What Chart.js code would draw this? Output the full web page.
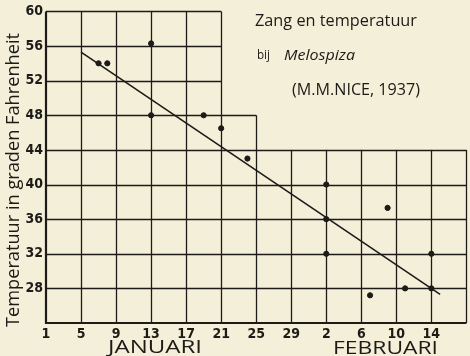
<!DOCTYPE html>
<html><head><meta charset="utf-8">
<script src="https://cdn.jsdelivr.net/npm/chart.js@4.4.1/dist/chart.umd.min.js"></script>
<style>html,body{margin:0;padding:0;background:#f3efd9;}</style>
</head><body><canvas id="c" width="470" height="356"></canvas>
<script>
const xTickValues=[1,5,9,13,17,21,25,29,33,37,41,45];
const xTickLabels=['1','5','9','13','17','21','25','29','2','6','10','14'];
const yTickValues=[28,32,36,40,44,48,52,56,60];
const songDays=[7,8,13,13,19,21,24,33,33,33,38,40,42,45,45];
const songTemps=[54,54,56.3,48,48,46.5,43,40,36,32,27.2,37.3,28,28,32];
const trendDays=[5,46];
const trendTemps=[55.3,27.3];
const hLineTemps=[60,56,52,48,44,40,36,32,28];
const hLineEndDays=[21,21,21,25,49,49,49,49,49];
const vLineDays=[5,9,13,17,21,25,29,33,37,41,45,49];
const vLineTopTemps=[60,60,60,60,60,48,44,44,44,44,44,44];
const monthLabels=['JANUARI','FEBRUARI'];
const titleLines=['Zang en temperatuur','bij','Melospiza','(M.M.NICE, 1937)'];
const yAxisTitle='Temperatuur in graden Fahrenheit';

const INK='#1c1b18';
const PAPER='#f3efd9';

function fitText(ctx,text,x,y,width,size,family,style){
  ctx.save();
  ctx.font=`${style||'normal'} normal ${size}px ${family}`;
  const w=ctx.measureText(text).width;
  ctx.translate(x,y);
  ctx.scale(width/w,1);
  ctx.fillText(text,0,0);
  ctx.restore();
}

const paperPlugin={
  id:'paper',
  beforeDraw(chart){
    const ctx=chart.ctx;
    ctx.save();ctx.fillStyle=PAPER;ctx.fillRect(0,0,chart.width,chart.height);ctx.restore();
  },
  beforeDatasetsDraw(chart){
    const ctx=chart.ctx, xs=chart.scales.x, ys=chart.scales.y;
    ctx.save();
    ctx.strokeStyle=INK;
    ctx.lineWidth=1.3;
    hLineTemps.forEach((t,i)=>{
      const py=Math.round(ys.getPixelForValue(t))+0.5;
      ctx.beginPath();ctx.moveTo(xs.getPixelForValue(xs.min),py);ctx.lineTo(xs.getPixelForValue(hLineEndDays[i]),py);ctx.stroke();
    });
    vLineDays.forEach((d,i)=>{
      const px=Math.round(xs.getPixelForValue(d))+0.5;
      ctx.beginPath();ctx.moveTo(px,ys.getPixelForValue(ys.min));ctx.lineTo(px,ys.getPixelForValue(vLineTopTemps[i]));ctx.stroke();
    });
    ctx.lineWidth=2.2;
    ctx.beginPath();
    ctx.moveTo(xs.getPixelForValue(xs.min),ys.getPixelForValue(ys.max));
    ctx.lineTo(xs.getPixelForValue(xs.min),ys.getPixelForValue(ys.min));
    ctx.lineTo(xs.getPixelForValue(xs.max),ys.getPixelForValue(ys.min));
    ctx.stroke();
    ctx.restore();
  },
  afterDraw(chart){
    const ctx=chart.ctx;
    ctx.save();
    ctx.fillStyle=INK;
    ctx.textAlign='left';ctx.textBaseline='alphabetic';
    const fam='"Open Sans", "DejaVu Sans", sans-serif';
    fitText(ctx,titleLines[0],255,26,162,17,fam);
    fitText(ctx,titleLines[1],257,59,13,12,fam);
    fitText(ctx,titleLines[2],284,60,71,15,fam,'italic');
    fitText(ctx,titleLines[3],292,95,128,17,fam);
    fitText(ctx,monthLabels[0],108,353,94,18,fam);
    fitText(ctx,monthLabels[1],333,354,105,19,fam);
    ctx.translate(19,327);ctx.rotate(-Math.PI/2);
    fitText(ctx,yAxisTitle,0,0,294,19,fam);
    ctx.restore();
  }
};

const tickFont={family:'"Liberation Sans Narrow", "DejaVu Sans Condensed", sans-serif',size:14,weight:'bold'};

new Chart(document.getElementById('c'),{
  type:'scatter',
  data:{datasets:[
    {label:'Zang',data:songDays.map((d,i)=>({x:d,y:songTemps[i]})),backgroundColor:INK,borderColor:INK,pointRadius:2.6,pointHoverRadius:2.6},
    {label:'Trend',type:'line',data:trendDays.map((d,i)=>({x:d,y:trendTemps[i]})),borderColor:INK,borderWidth:1.6,pointRadius:0,fill:false,showLine:true}
  ]},
  plugins:[paperPlugin],
  options:{
    responsive:false,animation:false,devicePixelRatio:1,
    layout:{padding:{top:7,right:3,left:0,bottom:0}},
    plugins:{legend:{display:false},tooltip:{enabled:false}},
    scales:{
      x:{type:'linear',min:1,max:49,
        grid:{display:false,drawTicks:false},border:{display:false},
        afterBuildTicks(s){s.ticks=xTickValues.map(v=>({value:v}));},
        afterFit(s){s.height=33;},
        ticks:{autoSkip:false,maxRotation:0,padding:3,color:INK,font:tickFont,
          callback(v){const i=xTickValues.indexOf(v);return i>=0?xTickLabels[i]:'';}}
      },
      y:{type:'linear',min:24,max:60,
        grid:{display:false,drawTicks:false},border:{display:false},
        afterBuildTicks(s){s.ticks=yTickValues.map(v=>({value:v}));},
        afterFit(s){s.width=46;},
        ticks:{autoSkip:false,padding:3,color:INK,font:tickFont,callback(v){return String(v);}}
      }
    }
  }
});
</script></body></html>
